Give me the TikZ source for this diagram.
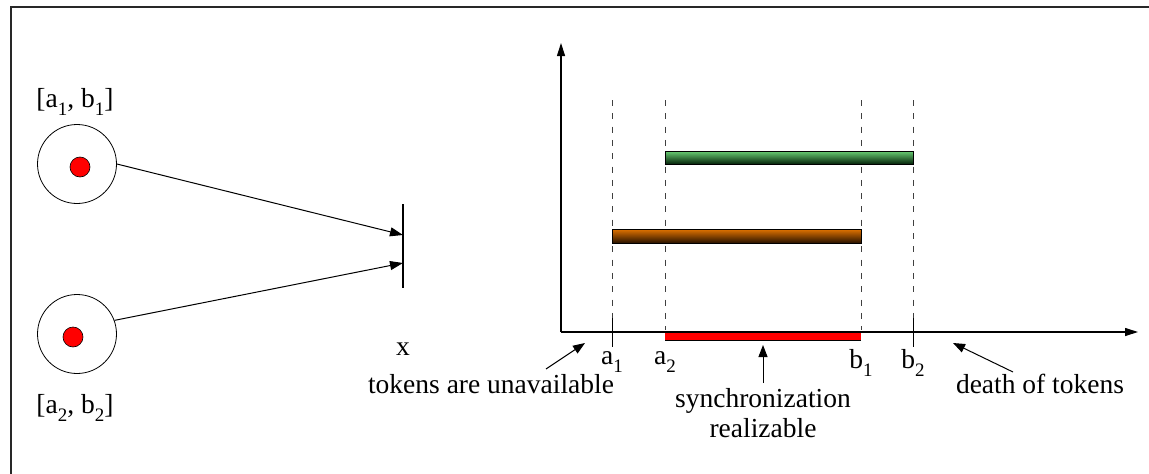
\documentclass[tikz,border=0pt]{standalone}
\usepackage{fontspec}
\setmainfont{Liberation Serif}
\usetikzlibrary{arrows.meta}
\definecolor{gtop}{RGB}{105,205,115}
\definecolor{gmid}{RGB}{45,130,60}
\definecolor{gbot}{RGB}{5,35,10}
\definecolor{otop}{RGB}{225,115,0}
\definecolor{omid}{RGB}{185,90,0}
\definecolor{obot}{RGB}{40,18,0}
\definecolor{frame}{RGB}{40,40,40}
\newcommand\sbs[1]{\raisebox{-0.3em}{\fontsize{19}{19}\selectfont #1}}
\tikzset{
  lbl/.style={font=\fontsize{27.5}{30}\selectfont, inner sep=0pt, anchor=base},
  place/.style={circle, draw, line width=0.8pt, minimum size=79pt, inner sep=0pt},
  token/.style={circle, draw, line width=0.6pt, fill=red, minimum size=20pt, inner sep=0pt},
  arc/.style={line width=1pt, -{Triangle[length=13pt,width=9pt]}},
  axis/.style={line width=1.1pt, -{Triangle[length=13pt,width=8pt]}},
  note/.style={line width=1pt, -{Triangle[length=12pt,width=9pt]}},
  guide/.style={line width=0.9pt, black!75, dash pattern=on 6pt off 7.3pt},
  bar/.style={draw=black, line width=0.7pt},
}
\begin{document}
\begin{tikzpicture}[x=1pt,y=-1pt]
\useasboundingbox (0,0) rectangle (1149,474);
% frame (top and left edges)
\coordinate (fbl) at (11,474);
\coordinate (ftl) at (11,7);
\coordinate (ftr) at (1149,7);
\draw[frame, line width=1.8pt] (fbl) -- (ftl) -- (ftr);

% Petri net part
\node[place] (p1) at (77,164) {};
\node[token] (k1) at (80,167) {};
\node[place] (p2) at (77,334) {};
\node[token] (k2) at (73,337) {};
\node[lbl] (l1) at (75,107) {[a\sbs{1}, b\sbs{1}]};
\node[lbl] (l2) at (75,413) {[a\sbs{2}, b\sbs{2}]};

\coordinate (ttop) at (403,204);
\coordinate (tbot) at (403,288);
\coordinate (t1) at (403,235);
\coordinate (t2) at (403,263);
\draw[line width=1.2pt] (ttop) -- (tbot);
\draw[arc] (p1.east) -- (t1);
\draw[arc] (p2.20) -- (t2);
\node[lbl] (lx) at (403,355) {x};

% time diagram
\coordinate (o) at (561,332);
\coordinate (ytip) at (561,43);
\coordinate (xtip) at (1138,332);
\coordinate (ybot) at (561,332);
\draw[axis] (ybot) -- (ytip);
\draw[axis] (o) -- (xtip);

% guides
\foreach \n/\x in {A1/612,A2/665,B1/861,B2/913}{
  \coordinate (\n top) at (\x,100);
  \coordinate (\n bot) at (\x,330);
  \draw[guide] (\n top) -- (\n bot);
}
\coordinate (A1t) at (612,318);
\coordinate (A1b) at (612,347);
\coordinate (B2t) at (913,318);
\coordinate (B2b) at (913,347);
\draw[line width=0.9pt] (A1t) -- (A1b);
\draw[line width=0.9pt] (B2t) -- (B2b);

% bars
\shade[bar, top color=gtop, middle color=gmid, bottom color=gbot] (665,151) rectangle (913,164);
\shade[bar, top color=otop, middle color=omid, bottom color=obot] (612,229) rectangle (861,243);
\fill[red] (665,333) rectangle (861,340);
\draw[line width=0.6pt] (665,340) -- (861,340);

% tick labels
\node[lbl] (la1) at (612,364) {a\sbs{1}};
\node[lbl] (la2) at (665,364) {a\sbs{2}};
\node[lbl] (lb1) at (861,368) {b\sbs{1}};
\node[lbl] (lb2) at (913,368) {b\sbs{2}};

% notes
\node[lbl] (n1) at (491,393) {tokens are unavailable};
\node[lbl] (n2) at (763,407) {synchronization};
\node[lbl] (n3) at (763,437) {realizable};
\node[lbl] (n4) at (1040,393) {death of tokens};

\coordinate (a1s) at (546,369);
\coordinate (a1e) at (585,343);
\coordinate (a2s) at (763,383);
\coordinate (a2e) at (763,345);
\coordinate (a3s) at (1013,372);
\coordinate (a3e) at (953,343);
\draw[note] (a1s) -- (a1e);
\draw[note] (a2s) -- (a2e);
\draw[note] (a3s) -- (a3e);
\end{tikzpicture}
\end{document}
